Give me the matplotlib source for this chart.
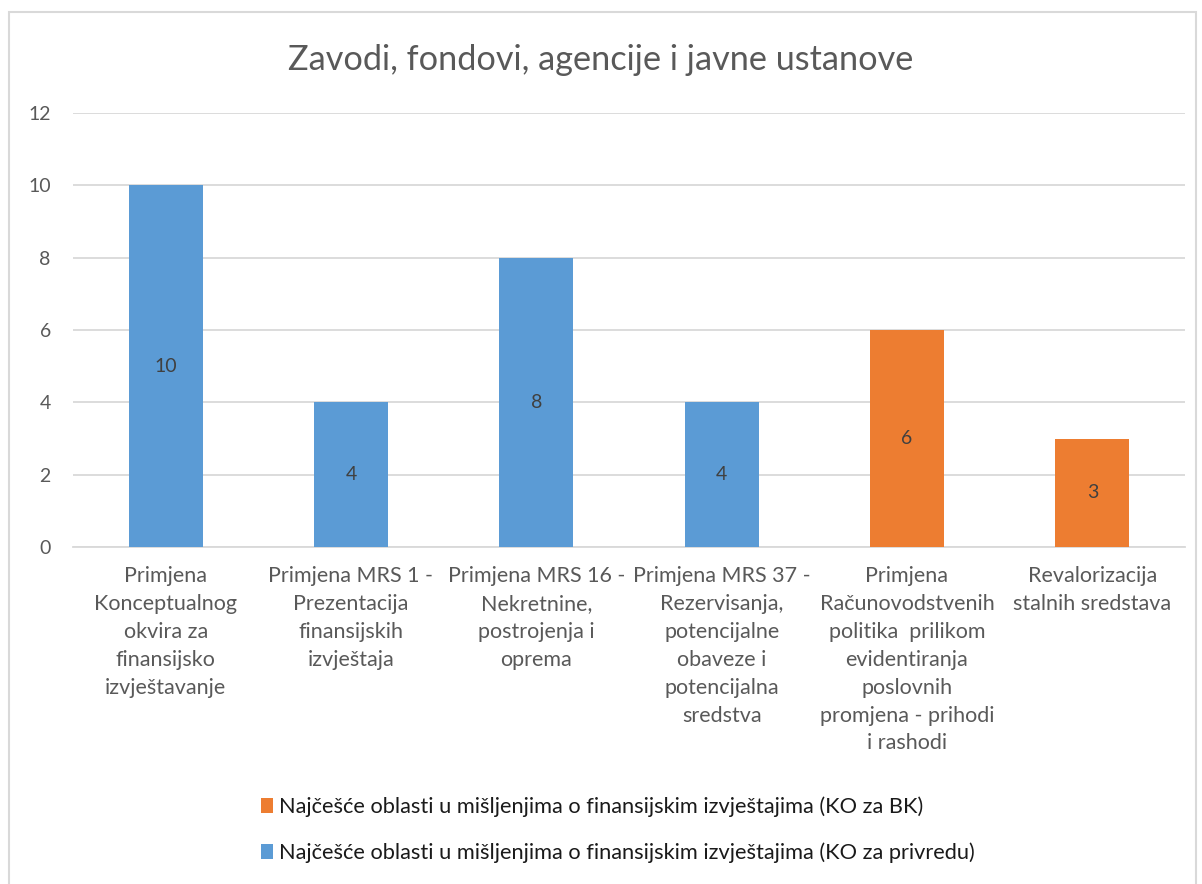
import numpy as np
import matplotlib.pyplot as plt
from matplotlib.patches import Rectangle, Patch

plt.rcParams['font.family'] = ['Lato', 'DejaVu Sans']

# chart data
categories = [
    'Primjena\nKonceptualnog\nokvira za\nfinansijsko\nizvještavanje',
    'Primjena MRS 1 -\nPrezentacija\nfinansijskih\nizvještaja',
    'Primjena MRS 16 -\nNekretnine,\npostrojenja i\noprema',
    'Primjena MRS 37 -\nRezervisanja,\npotencijalne\nobaveze i\npotencijalna\nsredstva',
    'Primjena\nRačunovodstvenih\npolitika  prilikom\nevidentiranja\nposlovnih\npromjena - prihodi\ni rashodi',
    'Revalorizacija\nstalnih sredstava',
]
values = [10, 4, 8, 4, 6, 3]
groups = ['privreda', 'privreda', 'privreda', 'privreda', 'BK', 'BK']
legend_bk = 'Najčešće oblasti u mišljenjima o finansijskim izvještajima (KO za BK)'
legend_priv = 'Najčešće oblasti u mišljenjima o finansijskim izvještajima (KO za privredu)'
title = 'Zavodi, fondovi, agencije i javne ustanove'

blue = '#5B9BD5'
orange = '#ED7D31'
txt = '#595959'
grid = '#D9D9D9'

fig = plt.figure(figsize=(12.02, 8.84), dpi=100)
fig.patches.append(Rectangle((9/1202, -0.01), 1187/1202, 1 - 12/884 + 0.01,
                             transform=fig.transFigure, fill=False,
                             edgecolor=grid, linewidth=1.5))
ax = fig.add_axes([73/1202, 1 - 547/884, (1185 - 73)/1202, (547 - 113)/884])

x = np.arange(len(values))
cols = [orange if g == 'BK' else blue for g in groups]
bars = ax.bar(x, values, width=0.4, color=cols, zorder=3)
for b, v in zip(bars, values):
    ax.text(b.get_x() + b.get_width()/2, v/2, str(v), ha='center', va='center',
            fontsize=14, color='#404040', zorder=4)

ax.set_xlim(-0.5, len(values) - 0.5)
ax.set_ylim(0, 12)
ax.set_yticks(range(0, 13, 2))
ax.yaxis.grid(True, color=grid, linewidth=1.3, zorder=0)
ax.set_xticks(x)
ax.set_xticklabels(categories, fontsize=15.5, color=txt, linespacing=1.49, va='top')
ax.tick_params(axis='y', labelsize=14, labelcolor=txt, length=0, pad=16)
ax.tick_params(axis='x', length=0, pad=14)
for s in ['top', 'right', 'left']:
    ax.spines[s].set_visible(False)
ax.spines['bottom'].set_color(grid)
ax.spines['bottom'].set_linewidth(1.3)

fig.text(0.5, 1 - 60/884, title, ha='center', va='center', fontsize=24.7, color=txt)

handles = [Patch(facecolor=orange), Patch(facecolor=blue)]
fig.legend(handles, [legend_bk, legend_priv], loc='center left',
           bbox_to_anchor=(241/1202, 1 - 830/884), frameon=False, fontsize=15.7,
           labelcolor='#1a1a1a', handlelength=0.55, handleheight=0.7,
           handletextpad=0.28, labelspacing=1.15)

plt.savefig('out.png', dpi=100)
